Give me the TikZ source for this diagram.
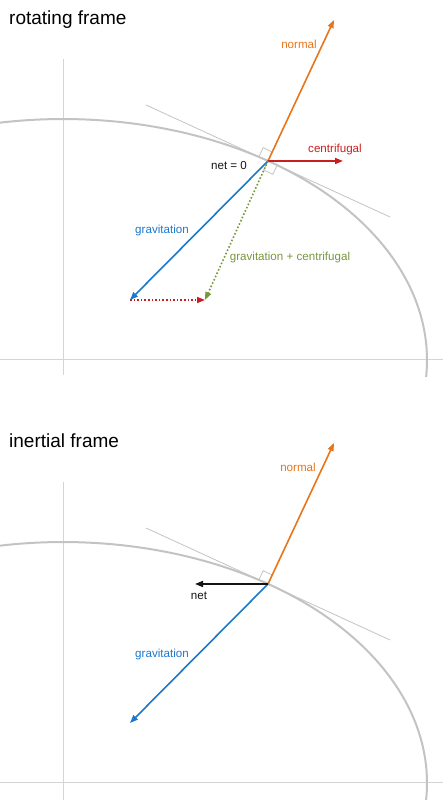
\documentclass[tikz,border=0pt]{standalone}
\usepackage{fontspec}
\setmainfont{Liberation Sans}
\usetikzlibrary{arrows.meta,calc}
\definecolor{cnormal}{RGB}{232,117,26}
\definecolor{cgrav}{RGB}{28,120,202}
\definecolor{ccent}{RGB}{200,30,30}
\definecolor{csum}{RGB}{120,150,60}
\definecolor{caxis}{RGB}{212,212,212}
\definecolor{cell}{RGB}{195,195,195}
\definecolor{cnet}{RGB}{20,20,20}
\begin{document}
\begin{tikzpicture}[x=1pt,y=1pt,
  axisline/.style={draw=caxis,line width=1pt},
  earth/.style={draw=cell,line width=2pt},
  tangentline/.style={draw=cell,line width=0.8pt},
  rightmark/.style={draw=cell,line width=0.8pt},
  vec/.style={line width=1.6pt,-{Triangle[length=8pt,width=6pt]}},
  dotvec/.style={vec,dotted},
  lbl/.style={font=\fontsize{11.6}{13}\selectfont,inner sep=0pt},
  ttl/.style={font=\fontsize{19}{22}\selectfont,inner sep=0pt,anchor=base west}]
\useasboundingbox (0,0) rectangle (443,800);

% ---------- rotating frame (top) ----------
\begin{scope}[shift={(0,423)}]
  \coordinate (Oa) at (63,17);
  \coordinate (Pa) at (268,216);
  \coordinate (Na) at ($(Pa)+(66,141)$);
  \coordinate (Ga) at ($(Pa)+(-138,-139)$);
  \coordinate (Ca) at ($(Pa)+(75,0)$);
  \coordinate (Sa) at ($(Pa)+(-63,-139)$);
  \coordinate (TLa) at ($(Pa)+(-122,56)$);
  \coordinate (TRa) at ($(Pa)+(122,-56)$);
  \coordinate (AxTa) at (63,318);
  \coordinate (AxBa) at (63,2);
  \coordinate (AxLa) at (0,17);
  \coordinate (AxRa) at (443,17);
  \draw[axisline] (AxTa) -- (AxBa);
  \draw[axisline] (AxLa) -- (AxRa);
  \draw[earth] ($(Oa)+(-63.2,237.3)$) arc[start angle=100,end angle=-4,x radius=364pt,y radius=241pt];
  \draw[tangentline] (TLa) -- (TRa);
  \draw[rightmark] (Pa) -- ++(4.24,9.06) -- ++(-9.06,4.24) -- ++(-4.24,-9.06);
  \draw[rightmark] (Pa) -- ++(-4.24,-9.06) -- ++(9.06,-4.24) -- ++(4.24,9.06);
  \draw[vec,cnormal] (Pa) -- (Na);
  \draw[vec,cgrav] (Pa) -- (Ga);
  \draw[vec,ccent] (Pa) -- (Ca);
  \draw[dotvec,ccent] (Ga) -- (Sa);
  \draw[dotvec,csum] (Pa) -- (Sa);
  \node[ttl] (titleA) at (9,352) {rotating frame};
  \node[lbl,text=cnormal] (lnA) at (299,333) {normal};
  \node[lbl,text=ccent] (lcA) at (335,227) {centrifugal};
  \node[lbl,text=cnet] (lzA) at (229,211) {net = 0};
  \node[lbl,text=cgrav] (lgA) at (162,146) {gravitation};
  \node[lbl,text=csum] (lsA) at (290,119) {gravitation + centrifugal};
\end{scope}

% ---------- inertial frame (bottom) ----------
\begin{scope}
  \coordinate (Ob) at (63,17);
  \coordinate (Pb) at (268,216);
  \coordinate (Nb) at ($(Pb)+(66,141)$);
  \coordinate (Gb) at ($(Pb)+(-138,-139)$);
  \coordinate (NetB) at ($(Pb)+(-73,0)$);
  \coordinate (TLb) at ($(Pb)+(-122,56)$);
  \coordinate (TRb) at ($(Pb)+(122,-56)$);
  \coordinate (AxTb) at (63,318);
  \coordinate (AxBb) at (63,0);
  \coordinate (AxLb) at (0,17);
  \coordinate (AxRb) at (443,17);
  \draw[axisline] (AxTb) -- (AxBb);
  \draw[axisline] (AxLb) -- (AxRb);
  \draw[earth] ($(Ob)+(-63.2,237.3)$) arc[start angle=100,end angle=-4,x radius=364pt,y radius=241pt];
  \draw[tangentline] (TLb) -- (TRb);
  \draw[rightmark] (Pb) -- ++(4.24,9.06) -- ++(-9.06,4.24) -- ++(-4.24,-9.06);
  \draw[vec,cnormal] (Pb) -- (Nb);
  \draw[vec,cgrav] (Pb) -- (Gb);
  \draw[vec,cnet] (Pb) -- (NetB);
  \node[ttl] (titleB) at (9,352) {inertial frame};
  \node[lbl,text=cnormal] (lnB) at (298,333) {normal};
  \node[lbl,text=cnet] (lnetB) at (199,204) {net};
  \node[lbl,text=cgrav] (lgB) at (162,145) {gravitation};
\end{scope}
\end{tikzpicture}
\end{document}
